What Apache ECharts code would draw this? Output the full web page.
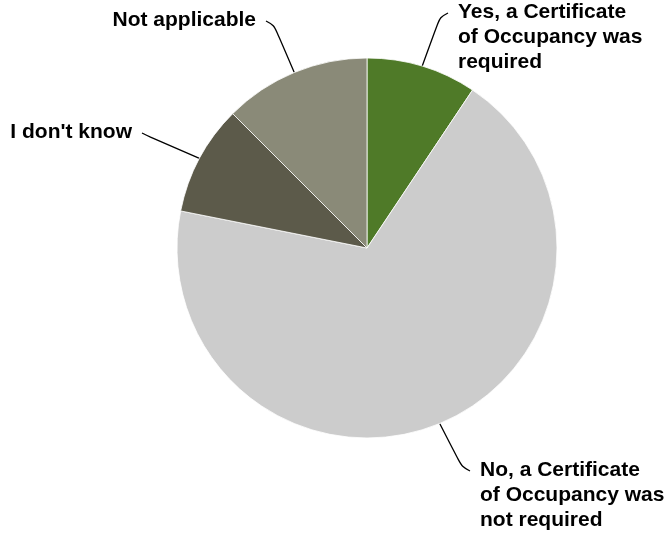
<!DOCTYPE html>
<html>
<head>
<meta charset="utf-8">
<script src="https://cdn.jsdelivr.net/npm/echarts@6/dist/echarts.min.js"></script>
<style>
  html, body { margin: 0; padding: 0; background: #fff; }
  #chart { width: 667px; height: 535px; }
</style>
</head>
<body>
<div id="chart"></div>
<script>
// Survey answers, counted per response
const categories = [
  'Yes, a Certificate\nof Occupancy was\nrequired',
  'No, a Certificate\nof Occupancy was\nnot required',
  "I don't know",
  'Not applicable'
];
const counts = [3, 22, 3, 4];
const colors = ['#4f7a28', '#cccccc', '#5c5a4a', '#8a8a78'];

// Where each label's text block sits: [x, y of top, horizontal anchor]
const labelSpots = [
  [458, 0, 'left'],
  [480, 458, 'left'],
  [132, 120, 'right'],
  [256, 8, 'right']
];

const chart = echarts.init(document.getElementById('chart'), null, { renderer: 'canvas' });

chart.setOption({
  animation: false,
  series: [{
    type: 'pie',
    center: [367, 248],
    radius: 190,
    startAngle: 90,
    clockwise: true,
    silent: true,
    data: categories.map((name, i) => ({
      name: name,
      value: counts[i],
      itemStyle: { color: colors[i] }
    })),
    itemStyle: { borderColor: '#ffffff', borderWidth: 0.8 },
    label: {
      show: true,
      formatter: '{b}',
      color: '#000',
      fontFamily: 'Liberation Sans, Arial, sans-serif',
      fontWeight: 'bold',
      fontSize: 21,
      lineHeight: 25
    },
    labelLine: {
      show: true,
      length: 20,
      length2: 10,
      smooth: 0.35,
      lineStyle: { color: '#000', width: 1.3 }
    },
    labelLayout: function (params) {
      const spot = labelSpots[params.dataIndex];
      const dir = spot[2] === 'left' ? -1 : 1;
      const start = params.labelLinePoints[0];
      const end = [spot[0] + dir * 10, spot[1] + 13];
      const vy = Math.sign(start[1] - end[1]);
      const bend = [end[0] + dir * 8, end[1] + vy * 4];
      return {
        x: spot[0],
        y: spot[1],
        align: spot[2],
        verticalAlign: 'top',
        labelLinePoints: [start, bend, end]
      };
    }
  }]
});
</script>
</body>
</html>
